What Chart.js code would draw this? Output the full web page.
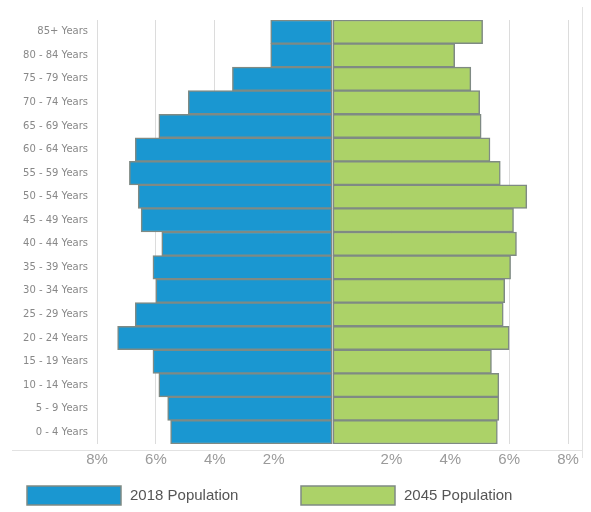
<!DOCTYPE html>
<html>
<head>
<meta charset="utf-8">
<script src="https://cdn.jsdelivr.net/npm/chart.js@4"></script>
<style>
  html, body { margin: 0; padding: 0; background: #fff; }
  #wrap { width: 591px; height: 512px; position: relative; }
</style>
</head>
<body>
<div id="wrap"><canvas id="Pyramid_Chart"></canvas></div>
<script>
// age groups, top to bottom
const ageGroups = ['85+ Years', '80 - 84 Years', '75 - 79 Years', '70 - 74 Years', '65 - 69 Years',
    '60 - 64 Years', '55 - 59 Years', '50 - 54 Years', '45 - 49 Years', '40 - 44 Years',
    '35 - 39 Years', '30 - 34 Years', '25 - 29 Years', '20 - 24 Years', '15 - 19 Years',
    '10 - 14 Years', '5 - 9 Years', '0 - 4 Years'];
// share of population, %
const pop2018 = [2.1, 2.1, 3.4, 4.9, 5.9, 6.7, 6.9, 6.6, 6.5, 5.8, 6.1, 6.0, 6.7, 7.3, 6.1, 5.9, 5.6, 5.5];
const pop2045 = [5.1, 4.15, 4.7, 5.0, 5.05, 5.35, 5.7, 6.6, 6.15, 6.25, 6.05, 5.85, 5.8, 6.0, 5.4, 5.65, 5.65, 5.6];
const xTicks = [-8, -6, -4, -2, 0, 2, 4, 6, 8];
const pop2018Label = '2018 Population';
const pop2045Label = '2045 Population';

const BLUE = '#1a97d1';
const GREEN = '#acd268';
const EDGE = '#7f8a84';

// legend boxes + frame lines, drawn by hand to match the original layout
const extrasPlugin = {
    id: 'extras',
    afterDraw(chart) {
        const ctx = chart.ctx;
        const area = chart.chartArea;
        ctx.save();
        ctx.strokeStyle = '#e2e2e2';
        ctx.lineWidth = 1;
        ctx.beginPath();
        ctx.moveTo(12, area.bottom + 6.5);
        ctx.lineTo(582, area.bottom + 6.5);
        ctx.moveTo(582.5, 7);
        ctx.lineTo(582.5, area.bottom + 14);
        ctx.stroke();

        const boxX = [27, 301];
        chart.data.datasets.forEach((ds, i) => {
            const x = boxX[i];
            ctx.fillStyle = ds.backgroundColor;
            ctx.fillRect(x, 486, 94, 19);
            ctx.strokeStyle = EDGE;
            ctx.lineWidth = 1.5;
            ctx.strokeRect(x, 486, 94, 19);
            ctx.fillStyle = '#555';
            ctx.font = '15px "Liberation Sans", Arial, sans-serif';
            ctx.textBaseline = 'middle';
            ctx.fillText(ds.label, x + 103, 496);
        });
        ctx.restore();
    }
};

const ctxPyramid = document.getElementById('Pyramid_Chart').getContext('2d');
new Chart(ctxPyramid, {
    type: 'bar',
    data: {
        labels: ageGroups,
        datasets: [{
            label: pop2018Label,
            data: pop2018.map(v => -v), // left side
            backgroundColor: BLUE,
            borderColor: EDGE,
            borderWidth: 1.5,
            borderSkipped: false
        }, {
            label: pop2045Label,
            data: pop2045,
            backgroundColor: GREEN,
            borderColor: EDGE,
            borderWidth: 1.5,
            borderSkipped: false
        }]
    },
    options: {
        indexAxis: 'y',
        responsive: true,
        maintainAspectRatio: false,
        animation: false,
        layout: {
            padding: { top: 20, right: 23, bottom: 36, left: 0 }
        },
        datasets: {
            bar: { barPercentage: 1, categoryPercentage: 1 }
        },
        plugins: {
            legend: { display: false },
            tooltip: { enabled: false }
        },
        scales: {
            x: {
                stacked: true,
                min: -8,
                max: 8,
                afterBuildTicks: scale => { scale.ticks = xTicks.map(v => ({ value: v })); },
                grid: { color: '#dcdcdc', lineWidth: 1, drawTicks: false },
                border: { display: false },
                ticks: {
                    padding: 7,
                    color: '#9a9a9a',
                    font: { family: '"Liberation Sans", Arial, sans-serif', size: 15 },
                    callback: v => v === 0 ? '' : Math.abs(v) + '%'
                }
            },
            y: {
                stacked: true,
                afterFit: scale => { scale.width = 97; },
                grid: { display: false, drawTicks: false },
                border: { display: false },
                ticks: {
                    padding: 9,
                    color: '#888',
                    font: { family: '"DejaVu Sans", sans-serif', size: 10 }
                }
            }
        }
    },
    plugins: [extrasPlugin]
});
</script>
</body>
</html>
